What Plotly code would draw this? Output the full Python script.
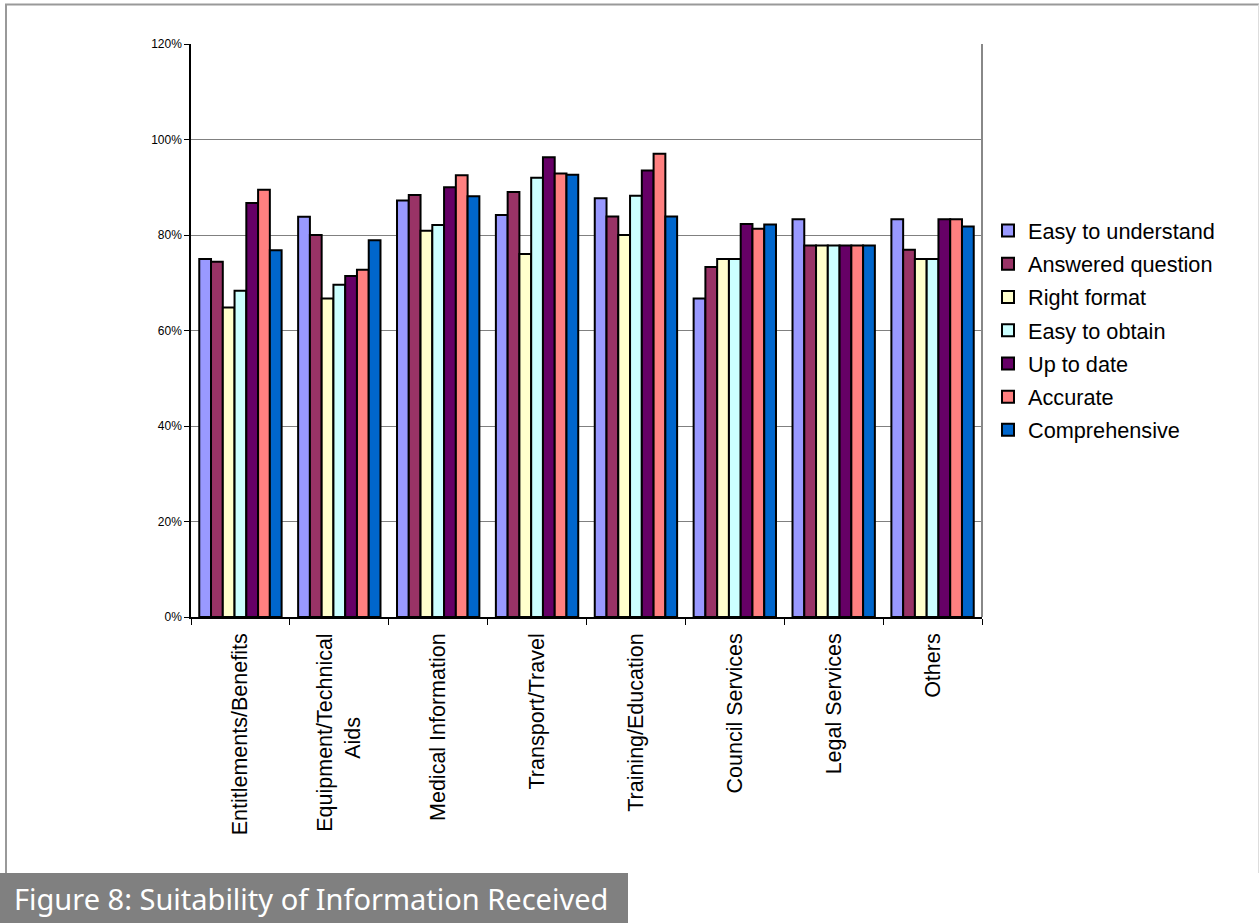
import plotly.graph_objects as go

NB = "\u00a0"
categories = ["Entitlements/Benefits", "Equipment/Technical<br>Aids" + NB * 14, "Medical Information",
              "Transport/Travel", "Training/Education", "Council Services",
              "Legal Services", "Others"]

series_names = ["Easy to understand", "Answered question", "Right format",
                "Easy to obtain", "Up to date", "Accurate", "Comprehensive"]

easy_to_understand = [75.0, 83.8, 87.2, 84.2, 87.7, 66.7, 83.3, 83.3]
answered_question  = [74.4, 80.0, 88.4, 89.0, 83.9, 73.3, 77.8, 76.9]
right_format       = [64.8, 66.7, 80.9, 76.0, 80.0, 75.0, 77.8, 75.0]
easy_to_obtain     = [68.3, 69.6, 82.1, 92.0, 88.2, 75.0, 77.8, 75.0]
up_to_date         = [86.7, 71.4, 90.0, 96.3, 93.5, 82.3, 77.8, 83.3]
accurate           = [89.5, 72.7, 92.5, 92.9, 97.0, 81.3, 77.8, 83.3]
comprehensive      = [76.8, 78.9, 88.1, 92.6, 83.9, 82.2, 77.8, 81.8]

series_values = [easy_to_understand, answered_question, right_format, easy_to_obtain,
                 up_to_date, accurate, comprehensive]
colors = ["#9999FF", "#993366", "#FFFFCC", "#CCFFFF", "#660066", "#FF8080", "#0066CC"]

y_ticks = [0, 20, 40, 60, 80, 100, 120]
y_tick_labels = ["0%", "20%", "40%", "60%", "80%", "100%", "120%"]

caption = "Figure 8: Suitability of Information Received"

W, H = 1260, 923
L, R, T, B = 191, 982, 44, 617

fig = go.Figure()
for name, vals, col in zip(series_names, series_values, colors):
    fig.add_trace(go.Bar(
        x=categories, y=vals, name=name, legendgroup=name,
        marker=dict(color=col, line=dict(color="black", width=2)),
    ))

def px(x):
    return (x - L) / (R - L)

def py(y):
    return (B - y) / (B - T)

shapes = [
    dict(type="line", xref="paper", yref="paper", x0=1, x1=1, y0=0, y1=1,
         line=dict(color="#888888", width=2)),
    dict(type="line", xref="paper", yref="paper", x0=px(5), x1=px(1259), y0=py(4.5), y1=py(4.5),
         line=dict(color="#999999", width=2)),
    dict(type="line", xref="paper", yref="paper", x0=px(6), x1=px(6), y0=py(4.5), y1=py(873),
         line=dict(color="#999999", width=2)),
    dict(type="line", xref="paper", yref="paper", x0=px(1258.5), x1=px(1258.5), y0=py(4.5), y1=py(873),
         line=dict(color="#dddddd", width=1)),
    dict(type="rect", xref="paper", yref="paper", x0=px(0), x1=px(628), y0=py(873), y1=py(923),
         fillcolor="#808080", line=dict(width=0)),
]

fig.update_layout(
    width=W, height=H,
    margin=dict(l=L, r=W - R, t=T, b=H - B, pad=0),
    paper_bgcolor="white", plot_bgcolor="white",
    barmode="group", bargap=0.167, bargroupgap=0,
    font=dict(family="Liberation Sans, Arial, sans-serif", color="black"),
    showlegend=True,
    legend=dict(
        x=px(988), y=py(210), xanchor="left", yanchor="top",
        font=dict(size=21.7, family="Liberation Sans, Arial, sans-serif"),
        tracegroupgap=2, bgcolor="rgba(0,0,0,0)",
    ),
    shapes=shapes,
    annotations=[dict(
        text=caption, xref="paper", yref="paper", x=px(12), y=py(898),
        xanchor="left", yanchor="middle", showarrow=False,
        font=dict(family="Noto Sans, sans-serif", size=29, color="white"),
    )],
)

fig.update_xaxes(
    showline=True, linecolor="black", linewidth=1.5,
    ticks="outside", tickson="boundaries", ticklen=6, tickcolor="black",
    tickangle=-90, tickfont=dict(size=21.5), showgrid=False, ticklabelstandoff=6,
)
fig.update_yaxes(
    range=[0, 120], tickvals=y_ticks, ticktext=y_tick_labels,
    showline=True, linecolor="black", linewidth=1.5,
    ticks="outside", ticklen=5, tickcolor="black",
    tickfont=dict(size=12), showgrid=True, gridcolor="#808080", gridwidth=1,
    zeroline=False,
)

fig.write_html("out.html")
